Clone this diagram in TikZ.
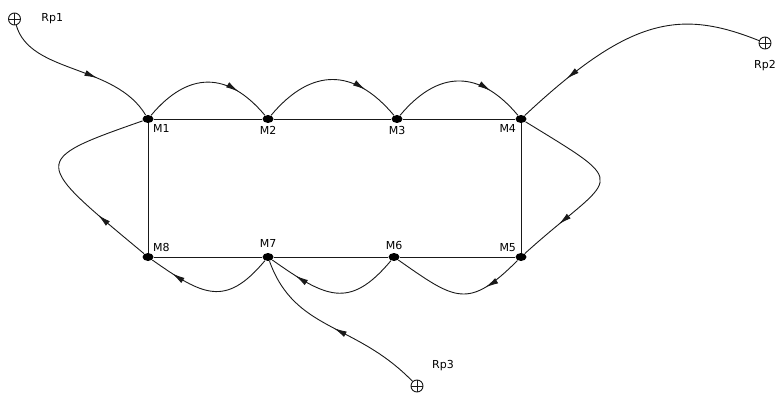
\documentclass[tikz,border=0pt]{standalone}
\usepackage{fontspec}
\setmainfont{DejaVu Sans}
\usetikzlibrary{arrows.meta, shapes.geometric, positioning, decorations.markings}

\begin{document}
\begin{tikzpicture}[x=1pt, y=1pt, >=Latex, line width=0.9pt, draw=black!90,
    mnode/.style={ellipse, fill=black, minimum width=11pt, minimum height=8pt, inner sep=0pt},
    rpnode/.style={circle, draw, minimum size=12pt, inner sep=0pt,
        path picture={\draw[line width=0.8pt] (path picture bounding box.north) -- (path picture bounding box.south)
            (path picture bounding box.west) -- (path picture bounding box.east);}},
    lbl/.style={font=\fontsize{11}{13}\selectfont, inner sep=1pt},
    flow/.style={postaction={decorate}, decoration={markings,
        mark=at position #1 with {\arrow{Latex[length=13pt,width=6pt]}}}},
    hop/.style={out=50, in=130, looseness=1.3},
    dip/.style={out=-130, in=-35, looseness=1.4}]

    \useasboundingbox (0,0) rectangle (779,394);

    % -------------------------------------------------------
    % 1. Machine nodes on the loop
    % -------------------------------------------------------
    \node[mnode, label={[lbl, label distance=0pt]below right:M1}] (M1) at (148,275) {};
    \node[mnode, label={[lbl, label distance=1pt]below:M2}]       (M2) at (268,275) {};
    \node[mnode, label={[lbl, label distance=1pt]below:M3}]       (M3) at (397,275) {};
    \node[mnode, label={[lbl, label distance=0pt]below left:M4}]  (M4) at (521,275) {};
    \node[mnode, label={[lbl, label distance=0pt]above left:M5}]  (M5) at (521,137) {};
    \node[mnode, label={[lbl, label distance=1pt]above:M6}]       (M6) at (394,137) {};
    \node[mnode, label={[lbl, label distance=4pt]above:M7}]       (M7) at (268,137) {};
    \node[mnode, label={[lbl, label distance=0pt]above right:M8}] (M8) at (148,137) {};

    % -------------------------------------------------------
    % 2. Entry points
    % -------------------------------------------------------
    \node[rpnode, label={[lbl, label distance=19pt]right:Rp1}]       (Rp1) at (14.5,375) {};
    \node[rpnode, label={[lbl, label distance=9pt]below:Rp2}]        (Rp2) at (765,351) {};
    \node[rpnode, label={[lbl, label distance=13pt]above right:Rp3}] (Rp3) at (417,8) {};

    % -------------------------------------------------------
    % 3. Rectangle of straight links
    % -------------------------------------------------------
    \draw (M1) -- (M2) -- (M3) -- (M4) -- (M5) -- (M6) -- (M7) -- (M8) -- (M1);

    % -------------------------------------------------------
    % 4. Curved flow around the loop
    % -------------------------------------------------------
    % Top row: hops above the line
    \draw[hop, flow=0.74] (M1) to (M2);
    \draw[hop, flow=0.74] (M2) to (M3);
    \draw[hop, flow=0.74] (M3) to (M4);

    % Right side bulge
    \draw[flow=0.78] (M4) .. controls (635,205) and (615,222) .. (M5);

    % Bottom row: dips below the line
    \draw[out=-135, in=-35, looseness=1.5, flow=0.3] (M5) to (M6);
    \draw[dip, flow=0.8] (M6) to (M7);
    \draw[dip, flow=0.82] (M7) to (M8);

    % Left side bulge back to M1
    \draw[flow=0.27] (M8) .. controls (33,233) and (28,233) .. (M1);

    % -------------------------------------------------------
    % 5. Feeds from the entry points
    % -------------------------------------------------------
    \draw[flow=0.62] (Rp1) .. controls (30,320) and (115,330) .. (M1);
    \draw[flow=0.79] (Rp2) .. controls (680,385) and (630,377) .. (M4);
    \draw[flow=0.5]  (Rp3) .. controls (355,72) and (295,62) .. (M7);
\end{tikzpicture}
\end{document}
